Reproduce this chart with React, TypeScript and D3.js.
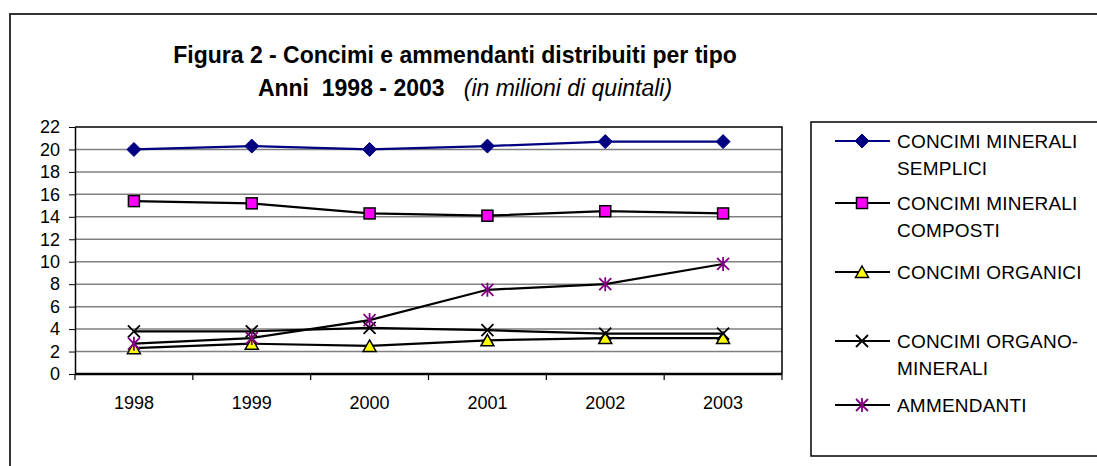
import React, { useEffect, useRef } from 'react';
import * as d3 from 'd3';

const years = ['1998', '1999', '2000', '2001', '2002', '2003'];
const semplici = [20.0, 20.3, 20.0, 20.3, 20.7, 20.7];
const composti = [15.4, 15.2, 14.3, 14.1, 14.5, 14.3];
const organici = [2.3, 2.7, 2.5, 3.0, 3.2, 3.2];
const organoMinerali = [3.8, 3.8, 4.1, 3.9, 3.6, 3.6];
const ammendanti = [2.7, 3.2, 4.8, 7.5, 8.0, 9.8];
const yTicks = [0, 2, 4, 6, 8, 10, 12, 14, 16, 18, 20, 22];

const series = [
  { name: ['CONCIMI MINERALI', 'SEMPLICI'], values: semplici, line: '#000080', marker: 'diamond', fill: '#000080' },
  { name: ['CONCIMI MINERALI', 'COMPOSTI'], values: composti, line: '#000000', marker: 'square', fill: '#ff00ff' },
  { name: ['CONCIMI ORGANICI'], values: organici, line: '#000000', marker: 'triangle', fill: '#ffff00' },
  { name: ['CONCIMI ORGANO-', 'MINERALI'], values: organoMinerali, line: '#000000', marker: 'x', fill: '#000000' },
  { name: ['AMMENDANTI'], values: ammendanti, line: '#000000', marker: 'star', fill: '#800080' },
];

const font = 'Arial, "Liberation Sans", sans-serif';

function drawMarker(g: any, type: string, fill: string) {
  if (type === 'diamond') {
    g.append('path').attr('d', 'M0,-7L7,0L0,7L-7,0Z').attr('fill', fill).attr('stroke', fill);
  } else if (type === 'square') {
    g.append('rect').attr('x', -5.5).attr('y', -5.5).attr('width', 11).attr('height', 11)
      .attr('fill', fill).attr('stroke', '#000').attr('stroke-width', 1.5);
  } else if (type === 'triangle') {
    g.append('path').attr('d', 'M0,-6L6.5,5.5L-6.5,5.5Z').attr('fill', fill).attr('stroke', '#000').attr('stroke-width', 1.5);
  } else if (type === 'x') {
    g.append('path').attr('d', 'M-6,-6L6,6M-6,6L6,-6').attr('stroke', fill).attr('stroke-width', 1.8);
  } else {
    g.append('path').attr('d', 'M-6,-6L6,6M-6,6L6,-6M0,-7L0,7').attr('stroke', fill).attr('stroke-width', 1.8);
  }
}

export default function App() {
  const svgRef = useRef<SVGSVGElement>(null);

  useEffect(() => {
    const svg = d3.select(svgRef.current);
    svg.selectAll('*').remove();

    const margin = { left: 75, right: 782, top: 127, bottom: 374 };

    const x = d3.scaleBand().domain(years).range([margin.left, margin.right]);
    const y = d3.scaleLinear().domain([0, 22]).range([margin.bottom, margin.top]);

    // outer frame
    svg.append('rect')
      .attr('x', 10).attr('y', 14).attr('width', 1100).attr('height', 480)
      .attr('fill', 'none').attr('stroke', '#333').attr('stroke-width', 2);

    // title
    svg.append('text').attr('font-family', font).attr('fill', '#000')
      .attr('x', 455).attr('y', 63).attr('text-anchor', 'middle')
      .attr('font-weight', 'bold').attr('font-size', 23)
      .text('Figura 2 - Concimi e ammendanti distribuiti per tipo');
    const t2 = svg.append('text').attr('font-family', font).attr('font-size', 23)
      .attr('x', 465).attr('y', 96).attr('text-anchor', 'middle');
    t2.append('tspan').attr('font-weight', 'bold').text('Anni\u00a0\u00a01998 - 2003');
    t2.append('tspan').attr('font-style', 'italic').text('\u00a0\u00a0\u00a0(in milioni di quintali)');

    // gridlines
    svg.append('g')
      .selectAll('line')
      .data(yTicks.filter(d => d > 0 && d < 22))
      .join('line')
      .attr('x1', margin.left).attr('x2', margin.right)
      .attr('y1', d => y(d)).attr('y2', d => y(d))
      .attr('stroke', '#808080').attr('stroke-width', 1.5);

    // plot border top/right
    svg.append('path')
      .attr('d', `M${margin.left},${margin.top}H${margin.right}V${margin.bottom}`)
      .attr('fill', 'none').attr('stroke', '#000').attr('stroke-width', 1.5);

    // y axis
    const yAxis = svg.append('g')
      .attr('transform', `translate(${margin.left},0)`)
      .call(d3.axisLeft(y).tickValues(yTicks).tickSize(6).tickPadding(9).tickSizeOuter(0));
    yAxis.select('.domain').attr('stroke', '#000').attr('stroke-width', 1.5);
    yAxis.selectAll('.tick line').attr('stroke', '#000');
    yAxis.selectAll('text').attr('font-family', font).attr('font-size', 18).attr('fill', '#000');

    // x axis
    const xAxis = svg.append('g')
      .attr('transform', `translate(0,${margin.bottom})`)
      .call(d3.axisBottom(x).tickSize(0).tickPadding(22));
    xAxis.select('.domain').remove();
    xAxis.selectAll('text').attr('font-family', font).attr('font-size', 18).attr('fill', '#000');
    svg.append('line')
      .attr('x1', margin.left).attr('x2', margin.right)
      .attr('y1', margin.bottom).attr('y2', margin.bottom)
      .attr('stroke', '#000').attr('stroke-width', 2.5);
    const bounds = years.map(d => x(d) as number).concat([margin.right]);
    svg.append('g').selectAll('line').data(bounds).join('line')
      .attr('x1', d => d).attr('x2', d => d)
      .attr('y1', margin.bottom).attr('y2', margin.bottom + 6)
      .attr('stroke', '#000').attr('stroke-width', 1.2);

    const cx = (d: string) => (x(d) as number) + x.bandwidth() / 2;

    // lines
    series.forEach(s => {
      const line = d3.line<number>()
        .x((_, i) => cx(years[i]))
        .y(v => y(v));
      svg.append('path').datum(s.values)
        .attr('d', line).attr('fill', 'none')
        .attr('stroke', s.line).attr('stroke-width', 2.2);
    });
    series.forEach(s => {
      s.values.forEach((v, i) => {
        const g = svg.append('g').attr('transform', `translate(${cx(years[i])},${y(v)})`);
        drawMarker(g, s.marker, s.fill);
      });
    });

    // legend
    svg.append('rect')
      .attr('x', 811).attr('y', 122).attr('width', 300).attr('height', 334)
      .attr('fill', '#fff').attr('stroke', '#000').attr('stroke-width', 1.5);
    const rowY = [141, 203, 272, 341, 405];
    series.forEach((s, i) => {
      const g = svg.append('g').attr('transform', `translate(0,${rowY[i]})`);
      g.append('line').attr('x1', 835).attr('x2', 890).attr('y1', 0).attr('y2', 0)
        .attr('stroke', s.line).attr('stroke-width', 2);
      const mg = g.append('g').attr('transform', 'translate(862,0)');
      drawMarker(mg, s.marker, s.fill);
      s.name.forEach((n, j) => {
        g.append('text').attr('x', 897).attr('y', 7 + j * 27)
          .attr('font-family', font).attr('font-size', 19)
          .attr('letter-spacing', 0.2).attr('fill', '#000')
          .text(n);
      });
    });
  }, []);

  return (
    <svg ref={svgRef} width={1097} height={466}
      style={{ position: 'absolute', left: 0, top: 0, background: '#fff' }} />
  );
}
